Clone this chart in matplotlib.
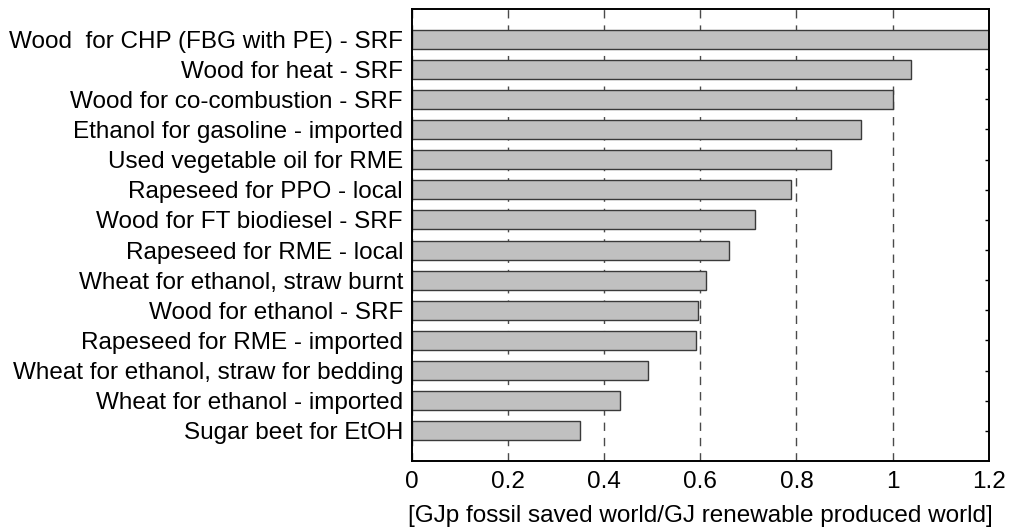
import matplotlib
matplotlib.use("Agg")
import matplotlib.pyplot as plt

plt.rcParams['font.family'] = ['Liberation Sans', 'DejaVu Sans']

categories = [
    "Wood  for CHP (FBG with PE) - SRF",
    "Wood for heat - SRF",
    "Wood for co-combustion - SRF",
    "Ethanol for gasoline - imported",
    "Used vegetable oil for RME",
    "Rapeseed for PPO - local",
    "Wood for FT biodiesel - SRF",
    "Rapeseed for RME - local",
    "Wheat for ethanol, straw burnt",
    "Wood for ethanol - SRF",
    "Rapeseed for RME - imported",
    "Wheat for ethanol, straw for bedding",
    "Wheat for ethanol - imported",
    "Sugar beet for EtOH",
]
values = [1.20, 1.039, 1.00, 0.935, 0.871, 0.788, 0.713, 0.659,
          0.613, 0.596, 0.592, 0.492, 0.433, 0.350]
xticks = [0, 0.2, 0.4, 0.6, 0.8, 1.0, 1.2]
xticklabels = ["0", "0.2", "0.4", "0.6", "0.8", "1", "1.2"]
xlabel = "[GJp fossil saved world/GJ renewable produced world]"

FS = 17.5

fig = plt.figure(figsize=(10.09, 5.30), dpi=100)
ax = fig.add_axes([0.408, 0.1302, 0.572, 0.853])

pos = list(range(len(categories)))
ax.barh(pos, values, height=0.63, color="#c0c0c0", edgecolor="#3a3a3a",
        linewidth=1.0, zorder=2)

ax.set_xlim(0, 1.2)
ax.set_ylim(14, -1)
ax.set_yticks(pos)
ax.set_yticklabels(categories, fontsize=FS)
ax.set_xticks(xticks)
ax.set_xticklabels(xticklabels, fontsize=FS)
ax.set_xlabel(xlabel, fontsize=FS, labelpad=9)

ax.xaxis.grid(True, linestyle=(0, (6, 5)), color="#4a4a4a", linewidth=1.0, zorder=1)
ax.tick_params(axis='both', direction='in', length=3, width=1, color='black',
               top=True, right=True)
ax.tick_params(axis='y', pad=6.2)
ax.tick_params(axis='x', length=0, pad=7)

for sp in ax.spines.values():
    sp.set_linewidth(1.4)
    sp.set_color("black")
    sp.set_zorder(3)

fig.savefig("out.png", dpi=100)
